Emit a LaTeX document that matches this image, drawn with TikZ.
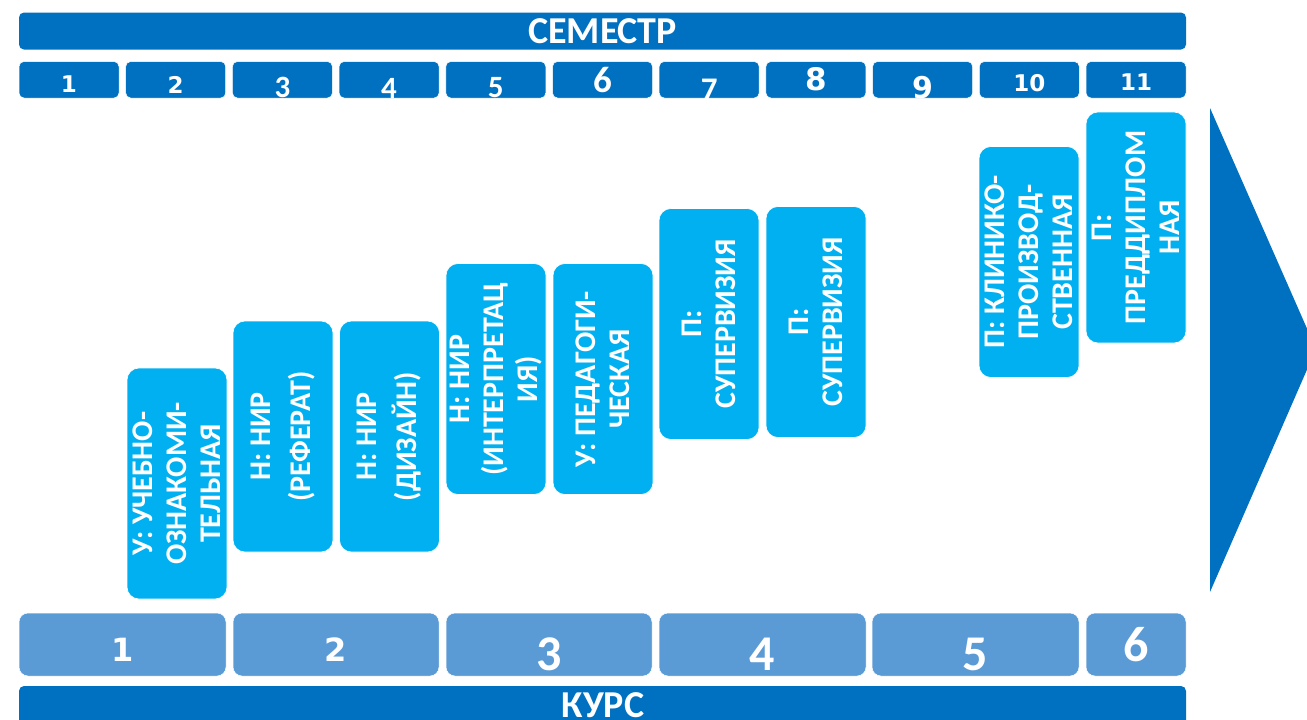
\documentclass[tikz,border=0pt]{standalone}
\usepackage{fontspec}
\setmainfont{Carlito}
\newfontfamily\wdigits{DejaVu Sans}
\definecolor{dblue}{HTML}{0070C0}
\definecolor{lblue}{HTML}{00B0F0}
\definecolor{mblue}{HTML}{5B9BD5}
\tikzset{
  bar/.style={fill=dblue, rounded corners=5pt, draw=none, inner sep=0pt, text=white},
  sembox/.style={fill=dblue, rounded corners=5pt, draw=white, line width=0.5pt, minimum width=100pt, minimum height=36.5pt, inner sep=0pt},
  coursebox/.style={fill=mblue, rounded corners=9pt, draw=white, line width=0.5pt, minimum height=63pt, inner sep=0pt},
  practice/.style={fill=lblue, rounded corners=12pt, draw=white, line width=0.6pt, rotate=90,
    minimum width=231pt, minimum height=100pt, inner sep=0pt, align=center, text=white,
    font=\bfseries\fontsize{30}{34}\selectfont},
  lbl/.style={text=white, inner sep=0pt},
}
\begin{document}
\begin{tikzpicture}[x=1pt,y=-1pt]
\useasboundingbox (0,0) rectangle (1307,720);
% top bar
\node[bar, minimum width=1167pt, minimum height=37pt, font=\bfseries\fontsize{38}{38}\selectfont] (semtitle) at (602.5,31) {СЕМЕСТР};
% semester boxes
\foreach \i in {1,...,11}{
  \node[sembox] (s\i) at ({69+106.7*(\i-1)},79.75) {};
}
\node[lbl, font=\wdigits\bfseries\fontsize{23}{23}\selectfont] (n1) at (s1 |- 0,84.5) {1};
\node[lbl, font=\wdigits\bfseries\fontsize{23}{23}\selectfont] (n2) at (s2 |- 0,84.5) {2};
\node[lbl, font=\bfseries\fontsize{31}{31}\selectfont] (n3) at (s3 |- 0,87.5) {3};
\node[lbl, font=\bfseries\fontsize{31}{31}\selectfont] (n4) at (s4 |- 0,88) {4};
\node[lbl, font=\bfseries\fontsize{31}{31}\selectfont] (n5) at (s5 |- 0,87.5) {5};
\node[lbl, font=\bfseries\fontsize{37}{37}\selectfont] (n6) at (s6 |- 0,80) {6};
\node[lbl, font=\bfseries\fontsize{33}{33}\selectfont] (n7) at (s7 |- 0,90) {7};
\node[lbl, font=\wdigits\bfseries\fontsize{31}{31}\selectfont] (n8) at (s8 |- 0,79.5) {8};
\node[lbl, font=\wdigits\bfseries\fontsize{30}{30}\selectfont] (n9) at (s9 |- 0,88) {9};
\node[lbl, font=\wdigits\bfseries\fontsize{23}{23}\selectfont] (n10) at (s10 |- 0,83) {10};
\node[lbl, font=\wdigits\bfseries\fontsize{23}{23}\selectfont] (n11) at (s11 |- 0,82.5) {11};
% arrow
\fill[dblue] (1210,108) -- (1316,349) -- (1210,592) -- cycle;
% practice boxes
\node[practice] (pA) at (177,483.5) {У: УЧЕБНО-\\ОЗНАКОМИ-\\ТЕЛЬНАЯ};
\node[practice, font=\bfseries\fontsize{30}{40}\selectfont] (pB) at (283,436.5) {Н: НИР\\(РЕФЕРАТ)};
\node[practice, font=\bfseries\fontsize{30}{40}\selectfont] (pC) at (389.5,436.5) {Н: НИР\\(ДИЗАЙН)};
\node[practice] (pD) at (496,379) {Н: НИР\\(ИНТЕРПРЕТАЦ\\ИЯ)};
\node[practice] (pE) at (603,379) {У: ПЕДАГОГИ-\\ЧЕСКАЯ};
\node[practice] (pF) at (709,324) {П:\\СУПЕРВИЗИЯ};
\node[practice] (pG) at (816,322) {П:\\СУПЕРВИЗИЯ};
\node[practice] (pH) at (1029,262) {П: КЛИНИКО-\\ПРОИЗВОД-\\СТВЕННАЯ};
\node[practice] (pI) at (1136,227.5) {П:\\ПРЕДДИПЛОМ\\НАЯ};
% course boxes
\node[coursebox, minimum width=207pt] (c1) at (122.5,644.5) {};
\node[coursebox, minimum width=206pt] (c2) at (336,644.5) {};
\node[coursebox, minimum width=206pt] (c3) at (549,644.5) {};
\node[coursebox, minimum width=207pt] (c4) at (762.5,644.5) {};
\node[coursebox, minimum width=207pt] (c5) at (975.5,644.5) {};
\node[coursebox, minimum width=100pt] (c6) at (1136,644.5) {};
\node[lbl, font=\wdigits\bfseries\fontsize{32}{32}\selectfont] (k1) at (c1 |- 0,650) {1};
\node[lbl, font=\wdigits\bfseries\fontsize{32}{32}\selectfont] (k2) at (c2 |- 0,650) {2};
\node[lbl, font=\bfseries\fontsize{50}{50}\selectfont] (k3) at (c3 |- 0,654) {3};
\node[lbl, font=\bfseries\fontsize{50}{50}\selectfont] (k4) at (c4 |- 0,654) {4};
\node[lbl, font=\bfseries\fontsize{50}{50}\selectfont] (k5) at (c5 |- 0,654) {5};
\node[lbl, font=\bfseries\fontsize{50}{50}\selectfont] (k6) at (c6 |- 0,645) {6};
% bottom bar
\node[bar, minimum width=1167pt, minimum height=44pt] (kursbar) at (602.5,708) {};
\node[lbl, font=\bfseries\fontsize{38}{38}\selectfont] (kurs) at (603,705.5) {КУРС};
\end{tikzpicture}
\end{document}
